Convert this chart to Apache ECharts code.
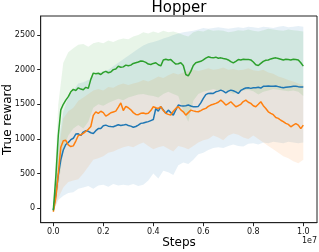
<!DOCTYPE html>
<html>
<head>
<meta charset="utf-8">
<script src="https://cdn.jsdelivr.net/npm/echarts@6/dist/echarts.min.js"></script>
<style>
html,body{margin:0;padding:0;background:#fff;}
#chart{width:319px;height:252px;}
</style>
</head>
<body>
<div id="chart"></div>
<script>
// x in units of 1e7 steps
const lineSteps = [0,0.01,0.02,0.03,0.04,0.05,0.06,0.07,0.08,0.09,0.10,0.11,0.12,0.13,0.14,0.15,0.16,0.17,0.18,0.19,0.20,0.21,0.22,0.23,0.24,0.25,0.26,0.27,0.28,0.29,0.30,0.31,0.32,0.33,0.34,0.35,0.36,0.37,0.38,0.39,0.40,0.41,0.42,0.43,0.44,0.45,0.46,0.47,0.48,0.49,0.50,0.51,0.52,0.53,0.54,0.55,0.56,0.57,0.58,0.59,0.60,0.61,0.62,0.63,0.64,0.65,0.66,0.67,0.68,0.69,0.70,0.71,0.72,0.73,0.74,0.75,0.76,0.77,0.78,0.79,0.80,0.81,0.82,0.83,0.84,0.85,0.86,0.87,0.88,0.89,0.90,0.91,0.92,0.93,0.94,0.95,0.96,0.97,0.98,0.99,1.00];

const blueMean = [-25,200,480,700,840,920,950,990,1010,1070,1075,1050,1100,1120,1110,1090,1080,1120,1150,1150,1190,1200,1185,1180,1176,1190,1205,1195,1200,1210,1195,1185,1170,1180,1200,1225,1230,1240,1250,1265,1280,1440,1400,1465,1420,1370,1416,1380,1344,1420,1489,1480,1474,1480,1489,1475,1465,1465,1470,1520,1585,1640,1657,1660,1657,1680,1690,1705,1690,1666,1690,1705,1695,1680,1657,1700,1720,1735,1738,1730,1740,1738,1745,1735,1760,1762,1765,1760,1762,1765,1755,1745,1738,1745,1750,1755,1760,1762,1755,1750,1748];

const orangeMean = [-50,150,500,880,975,980,915,890,900,970,1050,1060,1080,1110,1140,1180,1340,1390,1370,1400,1380,1330,1350,1378,1390,1402,1460,1520,1410,1470,1450,1420,1380,1354,1350,1370,1375,1365,1370,1410,1465,1450,1441,1465,1410,1370,1355,1344,1400,1440,1465,1420,1392,1344,1380,1416,1405,1395,1392,1410,1430,1441,1470,1489,1500,1513,1530,1560,1530,1489,1510,1537,1500,1465,1480,1500,1540,1560,1530,1513,1480,1465,1500,1537,1480,1440,1392,1370,1350,1310,1297,1270,1250,1225,1210,1176,1200,1220,1200,1150,1200];

const greenMean = [-30,450,1050,1420,1500,1560,1610,1680,1715,1700,1738,1720,1710,1745,1730,1860,1950,1940,1948,1930,1960,1975,1955,1965,2000,2010,2050,2035,2040,2065,2055,2065,2090,2100,2110,2125,2120,2105,2080,2075,2090,2100,2070,2055,2140,2150,2140,2145,2110,2080,2085,2100,2060,1930,1910,1975,2060,2100,2110,2120,2140,2165,2185,2175,2170,2180,2165,2170,2160,2155,2140,2115,2098,2120,2145,2140,2150,2145,2148,2140,2110,2070,2060,2090,2120,2135,2140,2155,2165,2170,2160,2150,2140,2150,2145,2140,2150,2145,2140,2100,2050];

const bandSteps = [0,0.02,0.04,0.06,0.08,0.10,0.12,0.14,0.16,0.18,0.20,0.22,0.24,0.26,0.28,0.30,0.32,0.34,0.36,0.38,0.40,0.42,0.44,0.46,0.48,0.50,0.52,0.54,0.56,0.58,0.60,0.62,0.64,0.66,0.68,0.70,0.72,0.74,0.76,0.78,0.80,0.82,0.84,0.86,0.88,0.90,0.92,0.94,0.96,0.98,1.00];

const blueUpper = [-20,900,1400,1600,1700,1800,1820,1850,1900,1950,1980,2000,2050,2100,2150,2200,2250,2300,2350,2380,2400,2420,2450,2470,2500,2520,2540,2550,2560,2580,2600,2590,2600,2610,2600,2590,2600,2610,2600,2620,2610,2600,2620,2610,2600,2620,2630,2610,2620,2630,2620];
const blueLower = [-40,120,180,220,230,280,300,320,280,330,340,310,350,330,340,330,350,320,340,400,500,430,540,520,480,620,660,640,700,780,800,840,870,880,870,900,920,900,890,930,940,920,950,940,960,950,940,960,950,940,950];

const orangeUpper = [-40,800,1300,1400,1450,1550,1600,1650,1700,1720,1700,1750,1740,1780,1800,1780,1800,1820,1850,1830,1860,1900,1880,1920,1950,1930,1960,1980,2000,1980,2000,2020,2000,2010,2030,2000,2010,1990,2000,2020,1990,1980,2000,1960,1940,1900,1880,1850,1830,1800,1780];
const orangeLower = [-60,150,300,380,400,420,500,600,700,720,750,800,820,850,880,900,880,920,950,900,850,880,900,860,820,900,880,850,900,950,980,1000,1050,1020,980,1050,1080,1060,1020,1000,1050,1000,950,900,850,800,750,720,680,650,700];

const greenUpper = [-20,1500,2100,2250,2310,2360,2370,2330,2380,2400,2380,2420,2400,2430,2450,2440,2480,2500,2540,2520,2550,2530,2560,2540,2550,2530,2500,2480,2540,2560,2550,2580,2560,2570,2560,2540,2550,2570,2560,2580,2560,2550,2570,2590,2580,2570,2560,2580,2570,2560,2550];
const greenLower = [-40,300,850,1050,1150,1200,1150,1250,1450,1500,1480,1520,1550,1580,1560,1600,1620,1640,1650,1630,1620,1600,1650,1680,1650,1620,1400,1250,1550,1650,1680,1700,1720,1700,1710,1690,1650,1680,1700,1710,1690,1640,1680,1700,1720,1710,1700,1690,1700,1680,1620];

const yTicks = [0,500,1000,1500,2000,2500];
const xTicks = [0,0.2,0.4,0.6,0.8,1.0];

const C_BLUE = '#1f77b4', C_ORANGE = '#ff7f0e', C_GREEN = '#2ca02c';

function band(name, lower, upper, color) {
  return {
    name: name + '_band', type: 'custom', silent: true, z: 1,
    data: bandSteps.map((s, i) => [s, lower[i], upper[i]]),
    encode: { x: 0, y: [1, 2] },
    renderItem: function (params, api) {
      if (params.dataIndex !== 0) return null;
      const pts = [];
      for (let i = 0; i < bandSteps.length; i++) pts.push(api.coord([bandSteps[i], upper[i]]));
      for (let i = bandSteps.length - 1; i >= 0; i--) pts.push(api.coord([bandSteps[i], lower[i]]));
      return { type: 'polygon', shape: { points: pts }, style: { fill: color, opacity: 0.11 } };
    }
  };
}
function meanLine(name, vals, color, z) {
  return {
    name: name, type: 'line', data: lineSteps.map((s, i) => [s, vals[i]]),
    symbol: 'none', lineStyle: { color: color, width: 1.5 }, z: z, silent: true
  };
}

const chart = echarts.init(document.getElementById('chart'), null, { renderer: 'canvas' });
const FONT = 'DejaVu Sans';
chart.setOption({
  animation: false,
  backgroundColor: '#fff',
  grid: { left: 40.7, right: 2, top: 16, bottom: 29.3, show: true, borderColor: '#222', borderWidth: 1, backgroundColor: 'transparent' },
  xAxis: {
    type: 'value', min: -0.0504, max: 1.0548,
    axisLine: { show: true, onZero: false, lineStyle: { color: '#222', width: 1 } },
    axisTick: { show: true, length: 3.5, lineStyle: { color: '#222' }, customValues: xTicks },
    axisLabel: { show: true, fontFamily: FONT, fontSize: 8, color: '#111', margin: 5.5, customValues: xTicks, formatter: v => v.toFixed(1) },
    splitLine: { show: false }
  },
  yAxis: {
    type: 'value', min: -208, max: 2774,
    axisLine: { show: true, onZero: false, lineStyle: { color: '#222', width: 1 } },
    axisTick: { show: true, length: 3.5, lineStyle: { color: '#222' }, customValues: yTicks },
    axisLabel: { show: true, fontFamily: FONT, fontSize: 8, color: '#111', margin: 5.5, customValues: yTicks, formatter: v => String(v) },
    splitLine: { show: false }
  },
  graphic: [
    { type: 'text', x: 179, y: 8, style: { text: 'Hopper', font: '15px "DejaVu Sans"', fill: '#000', align: 'center', verticalAlign: 'middle' } },
    { type: 'text', x: 179, y: 243, style: { text: 'Steps', font: '12px "DejaVu Sans"', fill: '#000', align: 'center', verticalAlign: 'middle' } },
    { type: 'text', x: 317, y: 241, style: { text: '1e7', font: '8px "DejaVu Sans"', fill: '#111', align: 'right', verticalAlign: 'middle' } },
    { type: 'text', x: 7.5, y: 119.5, rotation: Math.PI / 2, style: { text: 'True reward', font: '12px "DejaVu Sans"', fill: '#000', align: 'center', verticalAlign: 'middle' } }
  ],
  series: [
    band('blue', blueLower, blueUpper, C_BLUE),
    band('orange', orangeLower, orangeUpper, C_ORANGE),
    band('green', greenLower, greenUpper, C_GREEN),
    meanLine('blueMean', blueMean, C_BLUE, 3),
    meanLine('orangeMean', orangeMean, C_ORANGE, 4),
    meanLine('greenMean', greenMean, C_GREEN, 5)
  ]
});
</script>
</body>
</html>
